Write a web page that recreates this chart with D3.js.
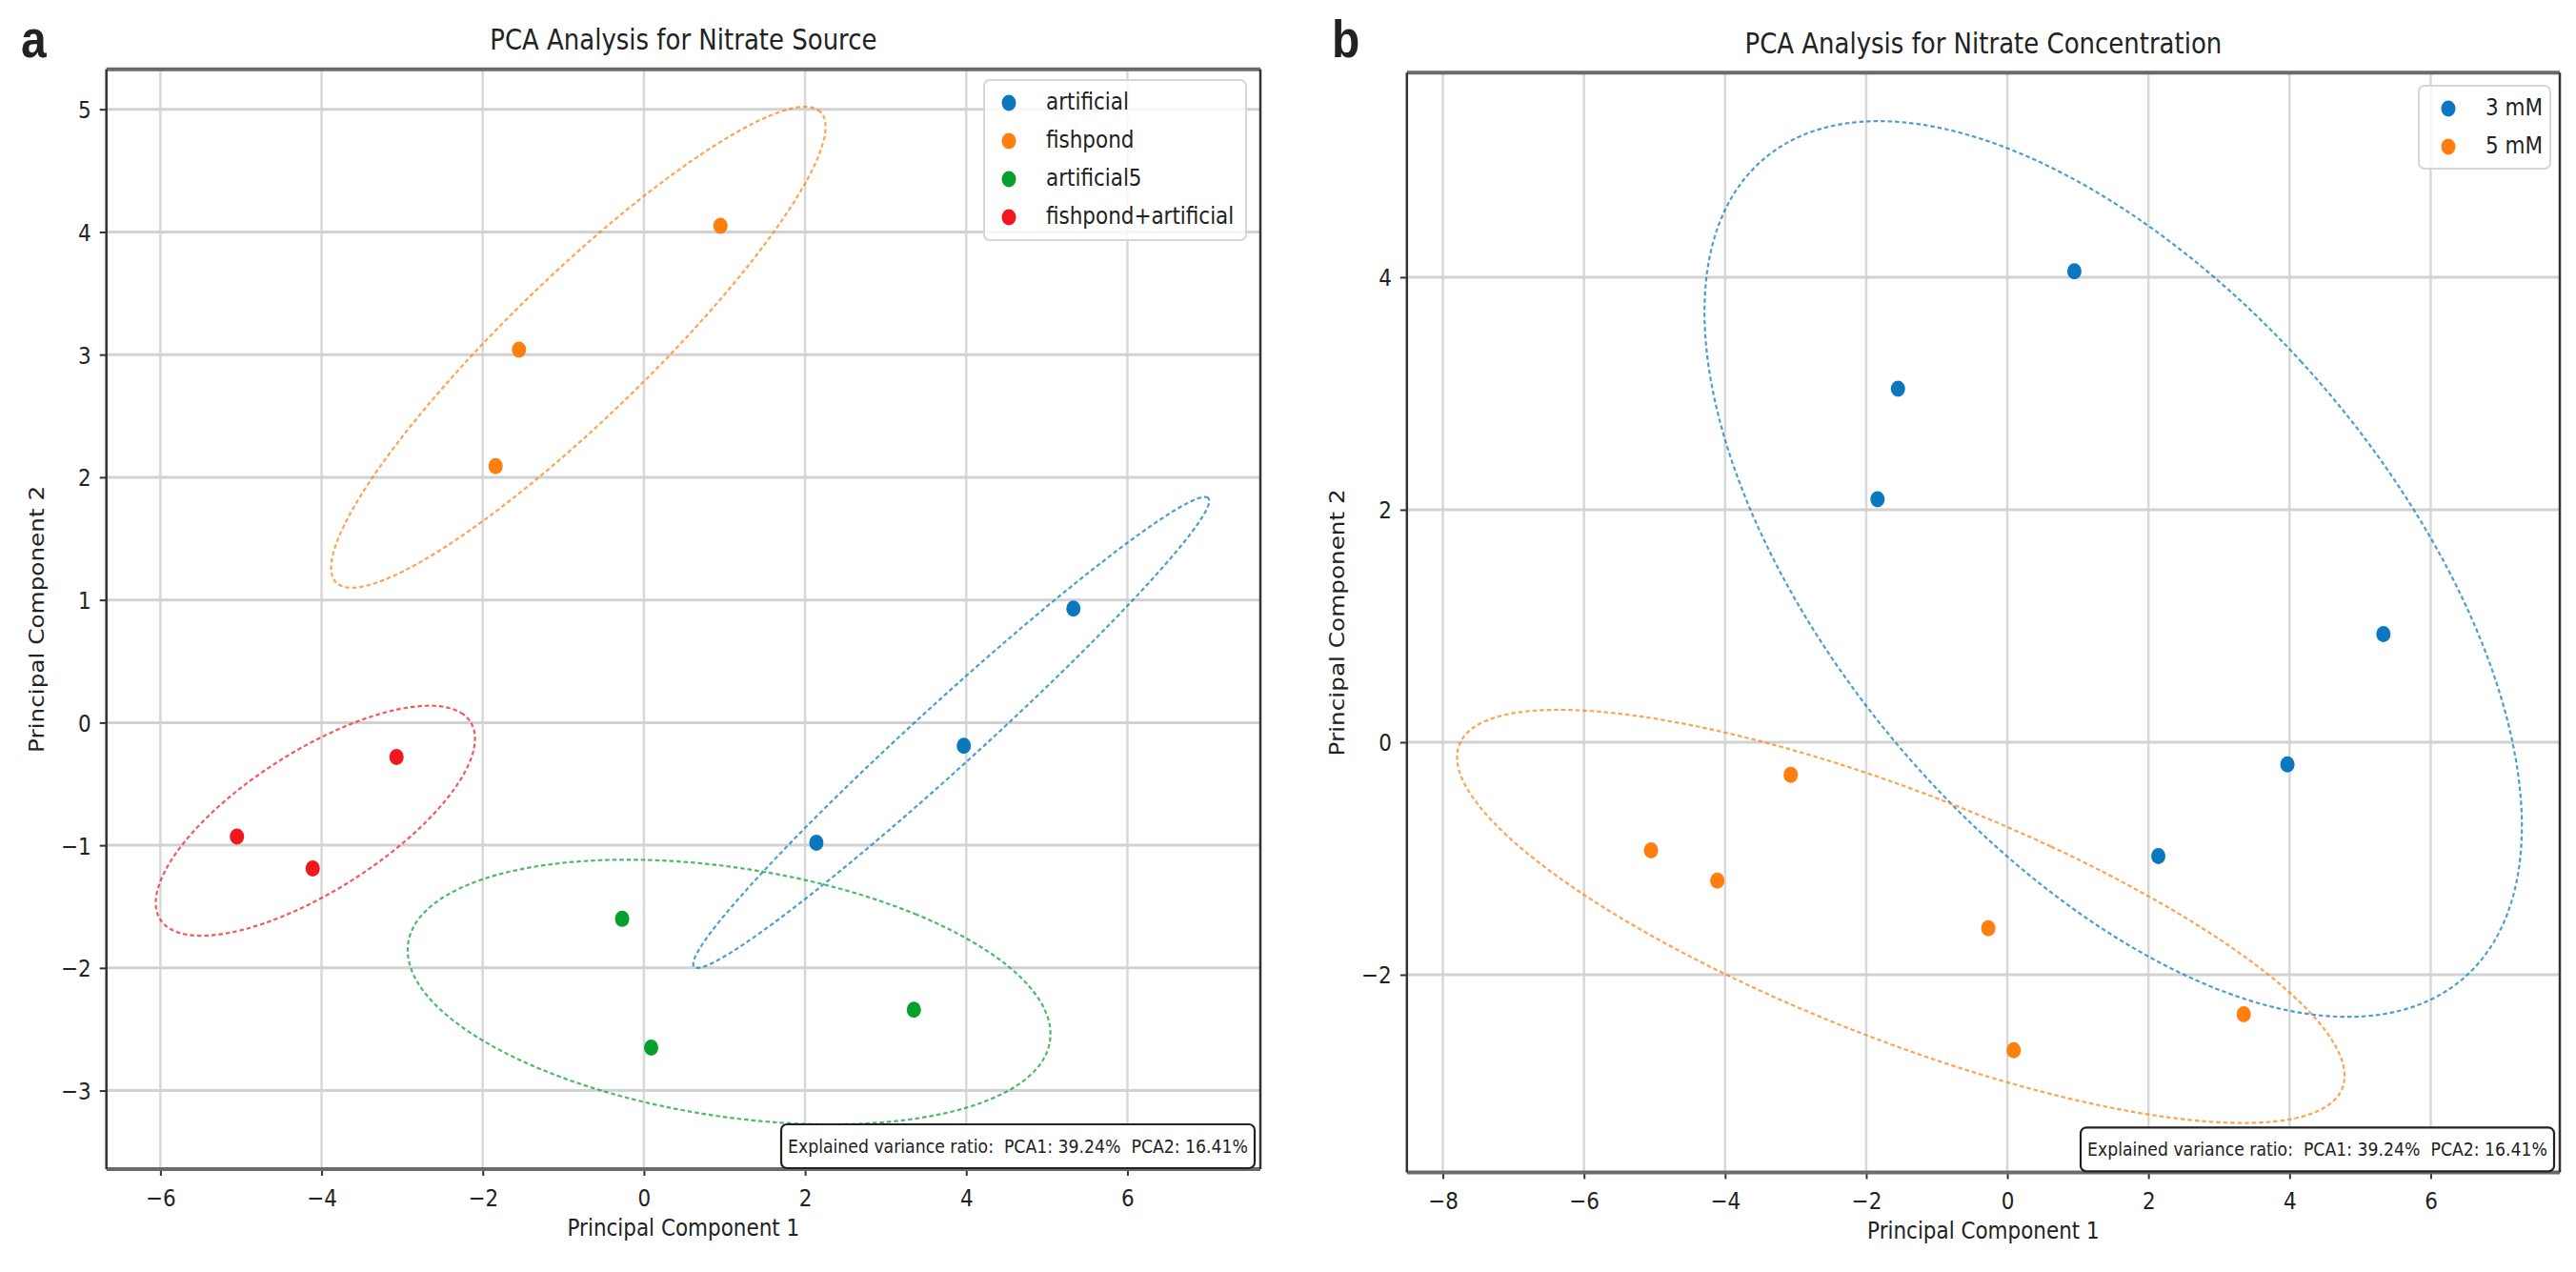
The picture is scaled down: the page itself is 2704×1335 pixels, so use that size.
<!DOCTYPE html>
<html>
<head>
<meta charset="utf-8">
<script src="https://cdn.jsdelivr.net/npm/d3@7"></script>
<style>
  body { margin: 0; background: #fff; }
  svg text { font-family: "DejaVu Sans", sans-serif; fill: #222; }
</style>
</head>
<body>
<svg id="fig" width="2704" height="1335"></svg>
<script>
// PCA scores, one small array per nitrate source
const sourceLabels = ["artificial", "fishpond", "artificial5", "fishpond+artificial"];
const sourceColors = ["#0a77bf", "#ff7f0e", "#08a02c", "#f2161f"];

const pc1Artificial = [2.14, 3.97, 5.33];
const pc2Artificial = [-0.98, -0.19, 0.93];
const pc1Fishpond = [-1.84, -1.55, 0.95];
const pc2Fishpond = [2.09, 3.04, 4.05];
const pc1Artificial5 = [-0.27, 0.09, 3.35];
const pc2Artificial5 = [-1.60, -2.65, -2.34];
const pc1Mixed = [-5.05, -4.11, -3.07];
const pc2Mixed = [-0.93, -1.19, -0.28];

// concentration grouping (panel b)
const concLabels = ["3 mM", "5 mM"];
const concColors = ["#0a77bf", "#ff7f0e"];
const concMembers = [["artificial", "fishpond"], ["artificial5", "fishpond+artificial"]];

// tick labels
const xTicksA = [-6, -4, -2, 0, 2, 4, 6];
const yTicksA = [-3, -2, -1, 0, 1, 2, 3, 4, 5];
const xTicksB = [-8, -6, -4, -2, 0, 2, 4, 6];
const yTicksB = [-2, 0, 2, 4];

const varPC1 = 39.24;
const varPC2 = 16.41;

// the original image is slightly stretched vertically
const S = 1.15;

const pc1 = [pc1Artificial, pc1Fishpond, pc1Artificial5, pc1Mixed];
const pc2 = [pc2Artificial, pc2Fishpond, pc2Artificial5, pc2Mixed];
const sourceGroups = sourceLabels.map((name, i) => ({
  name,
  color: sourceColors[i],
  pts: pc1[i].map((v, j) => [v, pc2[i][j]])
}));
const concGroups = concLabels.map((name, i) => ({
  name,
  color: concColors[i],
  pts: sourceGroups.filter(g => concMembers[i].includes(g.name)).flatMap(g => g.pts)
}));

// 2-sigma confidence ellipse from sample covariance
function confEllipse(pts, nStd) {
  const n = pts.length;
  const mx = d3.mean(pts, p => p[0]), my = d3.mean(pts, p => p[1]);
  let sxx = 0, syy = 0, sxy = 0;
  pts.forEach(p => {
    const dx = p[0] - mx, dy = p[1] - my;
    sxx += dx * dx; syy += dy * dy; sxy += dx * dy;
  });
  sxx /= n - 1; syy /= n - 1; sxy /= n - 1;
  const rho = sxy / Math.sqrt(sxx * syy);
  const rx = Math.sqrt(1 + rho), ry = Math.sqrt(1 - rho);
  const sx = Math.sqrt(sxx) * nStd, sy = Math.sqrt(syy) * nStd;
  const c = Math.SQRT1_2;
  return d3.range(0, 360, 1).map(t => {
    const a = t * Math.PI / 180;
    const u = rx * Math.cos(a), v = ry * Math.sin(a);
    return [mx + (c * u - c * v) * sx, my + (c * u + c * v) * sy];
  });
}

const svg = d3.select("#fig");

function addText(g, x, y, str, size, anchor, rotate) {
  return g.append("text")
    .attr("transform", `translate(${x},${y}) scale(1,${S})` + (rotate ? " rotate(-90)" : ""))
    .attr("text-anchor", anchor || "start")
    .style("font-size", size + "px")
    .text(str);
}

function drawPanel(p) {
  const g = svg.append("g");
  const x = d3.scaleLinear().domain(p.xDomain).range([p.left, p.right]);
  const y = d3.scaleLinear().domain(p.yDomain).range([p.bottom, p.top]);

  // grid
  g.append("g").selectAll("line").data(p.xTicks).join("line")
    .attr("x1", d => x(d)).attr("x2", d => x(d))
    .attr("y1", p.top).attr("y2", p.bottom)
    .attr("stroke", "#d8d8d8").attr("stroke-width", 2.5);
  g.append("g").selectAll("line").data(p.yTicks).join("line")
    .attr("x1", p.left).attr("x2", p.right)
    .attr("y1", d => y(d)).attr("y2", d => y(d))
    .attr("stroke", "#d2d2d2").attr("stroke-width", 3);

  // axes (ticks and labels)
  const xAxis = g.append("g")
    .attr("transform", `translate(0,${p.bottom})`)
    .call(d3.axisBottom(x).tickValues(p.xTicks).tickSize(7).tickSizeOuter(0));
  const yAxis = g.append("g")
    .attr("transform", `translate(${p.left},0)`)
    .call(d3.axisLeft(y).tickValues(p.yTicks).tickSize(7).tickSizeOuter(0));
  [xAxis, yAxis].forEach(a => {
    a.select(".domain").remove();
    a.selectAll(".tick line").attr("stroke", "#333").attr("stroke-width", 2);
    a.selectAll(".tick text").style("font-size", "21.5px").attr("fill", "#222");
  });
  xAxis.selectAll(".tick text")
    .attr("y", 0).attr("dy", null)
    .attr("transform", `translate(0,39) scale(1,${S})`);
  yAxis.selectAll(".tick text")
    .attr("x", 0).attr("dy", "0.36em")
    .attr("transform", `translate(-16,0) scale(1,${S})`);

  // ellipses
  const line = d3.line().x(d => x(d[0])).y(d => y(d[1])).curve(d3.curveLinearClosed);
  g.append("g").selectAll("path").data(p.groups).join("path")
    .attr("d", d => line(confEllipse(d.pts, 2)))
    .attr("fill", "none")
    .attr("stroke", d => d.color)
    .attr("stroke-width", 2.2)
    .attr("stroke-dasharray", "4.5,3")
    .attr("opacity", 0.72);

  // points
  p.groups.forEach(grp => {
    g.append("g").selectAll("ellipse").data(grp.pts).join("ellipse")
      .attr("cx", d => x(d[0])).attr("cy", d => y(d[1]))
      .attr("rx", 7.5).attr("ry", 8.5)
      .attr("fill", grp.color);
  });

  // spines
  g.append("line").attr("x1", p.left).attr("x2", p.right).attr("y1", p.top).attr("y2", p.top)
    .attr("stroke", "#6a6a6a").attr("stroke-width", 4);
  g.append("line").attr("x1", p.left).attr("x2", p.right).attr("y1", p.bottom).attr("y2", p.bottom)
    .attr("stroke", "#6a6a6a").attr("stroke-width", 4);
  g.append("line").attr("x1", p.left).attr("x2", p.left).attr("y1", p.top).attr("y2", p.bottom)
    .attr("stroke", "#333").attr("stroke-width", 2.5);
  g.append("line").attr("x1", p.right).attr("x2", p.right).attr("y1", p.top).attr("y2", p.bottom)
    .attr("stroke", "#333").attr("stroke-width", 2.5);

  // legend
  const lg = g.append("g");
  lg.append("rect")
    .attr("x", p.legend.x).attr("y", p.legend.y)
    .attr("width", p.legend.w).attr("height", p.legend.h)
    .attr("rx", 6)
    .attr("fill", "#fff").attr("fill-opacity", 0.8)
    .attr("stroke", "#d6d6d6").attr("stroke-width", 2);
  p.groups.forEach((grp, i) => {
    const ry = p.legend.y + 24 + i * 40;
    lg.append("ellipse")
      .attr("cx", p.legend.x + p.legend.mk).attr("cy", ry)
      .attr("rx", 7.5).attr("ry", 8.5)
      .attr("fill", grp.color);
    addText(lg, p.legend.x + p.legend.mk + 39, ry + 7, grp.name, 21.5);
  });

  // explained variance box
  const vb = g.append("g");
  const vt = addText(vb, 0, 0, `Explained variance ratio:  PCA1: ${varPC1.toFixed(2)}%  PCA2: ${varPC2.toFixed(2)}%`, 17.3)
    .style("white-space", "pre").attr("fill", "#111");
  const tw = vt.node().getComputedTextLength();
  const bw = tw + 14, bh = 46;
  const bx = p.right - 6 - bw, by = p.bottom - 1 - bh;
  vb.insert("rect", "text")
    .attr("x", bx).attr("y", by).attr("width", bw).attr("height", bh)
    .attr("rx", 6).attr("fill", "#fff")
    .attr("stroke", "#222").attr("stroke-width", 2.2);
  vt.attr("transform", `translate(${bx + 7},${by + 30}) scale(1,${S})`);

  // titles and labels
  const cx = (p.left + p.right) / 2;
  addText(g, cx, p.top - 20.5, p.title, 26, "middle");
  addText(g, cx, p.bottom + 70, "Principal Component 1", 21.5, "middle");
  addText(g, p.left - 73, (p.top + p.bottom) / 2, "Principal Component 2", 21.5, "middle", true)
    .attr("dy", "0.35em");
  addText(g, p.letterX, 60, p.letter, 48)
    .style("font-family", "'Liberation Sans', Arial, sans-serif")
    .style("font-weight", "bold")
    .attr("fill", "#000");
}

drawPanel({
  left: 111.7, right: 1323, top: 72.7, bottom: 1227,
  xDomain: [-6.67, 7.65], yDomain: [-3.64, 5.326],
  xTicks: xTicksA, yTicks: yTicksA,
  groups: sourceGroups,
  title: "PCA Analysis for Nitrate Source",
  letter: "a", letterX: 22,
  legend: { x: 1033, y: 84, w: 275, h: 168, mk: 26 }
});

drawPanel({
  left: 1476.8, right: 2687, top: 76.2, bottom: 1230.4,
  xDomain: [-8.51, 7.83], yDomain: [-3.70, 5.76],
  xTicks: xTicksB, yTicks: yTicksB,
  groups: concGroups,
  title: "PCA Analysis for Nitrate Concentration",
  letter: "b", letterX: 1398,
  legend: { x: 2539, y: 90, w: 138, h: 87, mk: 31 }
});
</script>
</body>
</html>
